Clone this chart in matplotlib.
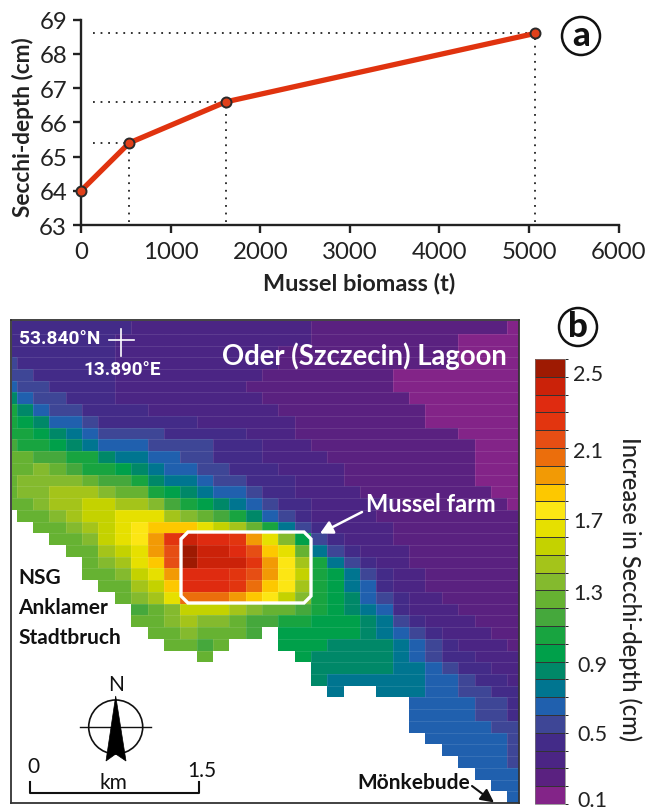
import numpy as np
import matplotlib
matplotlib.use("Agg")
import matplotlib.pyplot as plt
from matplotlib.colors import ListedColormap, BoundaryNorm
from matplotlib.collections import LineCollection
from matplotlib.patches import Circle, Polygon
from matplotlib.transforms import ScaledTranslation

plt.rcParams['font.family'] = ['Lato', 'DejaVu Sans']

# ---- panel a data
biomass = [0, 539, 1618, 5067]
secchi = [64.0, 65.4, 66.6, 68.6]
x_ticks = [0, 1000, 2000, 3000, 4000, 5000, 6000]
y_ticks = [63, 64, 65, 66, 67, 68, 69]

# ---- panel b data: increase in Secchi depth, in tenths of cm (0 = land)
level_colors = ['#832488', '#5A2180', '#4B2584', '#432B88', '#3E4696', '#2060AE', '#007590',
                '#008868', '#00A04A', '#18A440', '#45A83C', '#66B232', '#84BA2E', '#A4C41A',
                '#C4D200', '#E6E000', '#FCE614', '#FDC800', '#F29A05', '#EB6E0C', '#E64E14',
                '#E2350F', '#DF2B10', '#CB2209', '#9E1A02']
cbar_ticks = [0.1, 0.5, 0.9, 1.3, 1.7, 2.1, 2.5]
map_rows = [
    [4,4,4,4,4,4,4,4,3,3,3,3,3,3,3,3,3,3,3,2,2,2,2,2,2,2,2,2,2,2,2,1],
    [4,4,4,4,4,4,4,3,3,3,3,3,3,3,3,3,3,3,3,2,2,2,2,2,2,2,2,2,1,1,1,1],
    [4,4,4,4,4,4,4,3,3,3,3,3,3,3,3,3,3,2,2,2,2,2,2,2,2,2,2,2,1,1,1,1],
    [5,4,4,4,4,4,4,3,3,3,3,3,3,3,3,3,3,2,2,2,2,2,2,2,2,2,2,2,1,1,1,1],
    [5,5,4,4,4,4,4,3,3,3,3,3,3,3,3,3,2,2,2,2,2,2,2,2,1,1,1,1,1,1,1,1],
    [6,5,5,4,4,4,4,3,3,3,3,3,3,3,3,2,2,2,2,2,2,2,2,2,1,1,1,1,1,1,1,1],
    [8,6,5,5,4,4,4,3,3,3,3,3,3,3,3,3,2,2,2,2,2,2,2,2,2,1,1,1,1,1,1,1],
    [10,8,6,5,5,4,4,4,4,3,3,3,3,3,3,3,3,2,2,2,2,2,2,2,2,2,1,1,1,1,1,1],
    [10,9,8,6,6,5,4,4,4,4,4,4,3,3,3,3,3,3,2,2,2,2,2,2,2,2,1,1,1,1,1,1],
    [10,10,9,8,7,6,5,5,5,5,4,4,4,4,4,3,3,3,2,2,2,2,2,2,2,2,2,2,1,1,1,1],
    [11,10,10,9,8,7,6,6,6,5,5,5,5,4,4,4,3,3,3,2,2,2,2,2,2,2,2,2,2,1,1,1],
    [12,12,11,11,10,10,8,7,7,6,6,5,5,4,4,4,3,3,3,3,2,2,2,2,2,2,2,2,2,1,1,1],
    [12,12,13,12,11,10,10,9,8,7,6,6,5,5,4,4,4,3,3,3,3,2,2,2,2,2,2,2,2,1,1,1],
    [12,13,13,13,13,12,11,11,10,8,7,7,6,5,5,4,4,4,3,3,3,2,2,2,2,2,2,2,2,1,1,1],
    [12,13,13,14,14,14,13,12,12,10,9,8,7,6,6,5,4,4,3,3,3,3,2,2,2,2,2,2,2,2,1,1],
    [12,12,13,14,14,15,15,14,14,13,11,10,9,8,7,6,5,4,4,3,3,3,3,3,2,2,2,2,2,2,2,1],
    [0,12,12,13,14,15,15,16,16,16,14,13,12,11,10,8,6,5,4,3,3,3,3,2,2,2,2,2,2,2,2,2],
    [0,0,12,12,13,14,15,16,17,18,18,18,16,15,14,12,10,7,5,4,3,3,3,3,2,2,2,2,2,2,2,2],
    [0,0,0,12,12,13,15,16,17,19,22,24,23,23,22,19,16,13,9,5,4,3,3,3,2,2,2,2,2,2,2,2],
    [0,0,0,0,12,12,14,15,16,19,21,25,24,24,23,21,18,16,12,7,5,4,3,3,3,2,2,2,2,2,2,2],
    [0,0,0,0,0,12,13,14,16,18,21,25,24,24,24,22,19,17,14,10,7,5,4,3,3,2,2,2,2,2,2,2],
    [0,0,0,0,0,12,12,13,15,16,19,23,23,23,22,21,19,17,15,10,9,7,5,4,3,3,2,2,2,2,2,2],
    [0,0,0,0,0,0,12,12,14,15,18,23,23,23,22,20,18,17,14,10,9,7,6,4,3,3,2,2,2,2,2,2],
    [0,0,0,0,0,0,0,12,13,14,16,20,20,20,19,18,17,15,13,10,9,8,6,5,4,3,3,2,2,2,2,2],
    [0,0,0,0,0,0,0,0,11,12,13,15,15,15,14,13,12,12,11,10,9,8,7,6,4,3,3,3,2,2,2,2],
    [0,0,0,0,0,0,0,0,12,12,13,14,13,13,12,11,11,10,10,9,9,9,8,7,5,4,3,3,3,2,2,2],
    [0,0,0,0,0,0,0,0,0,12,12,13,12,12,12,11,0,9,9,9,9,9,8,7,6,5,4,3,3,3,2,2],
    [0,0,0,0,0,0,0,0,0,0,12,12,11,12,0,0,0,9,9,9,8,8,8,8,7,6,5,4,3,3,3,2],
    [0,0,0,0,0,0,0,0,0,0,0,0,12,0,0,0,0,0,9,8,8,8,8,8,7,6,5,4,4,3,3,3],
    [0,0,0,0,0,0,0,0,0,0,0,0,0,0,0,0,0,0,0,8,8,8,8,8,7,7,6,5,4,4,3,3],
    [0,0,0,0,0,0,0,0,0,0,0,0,0,0,0,0,0,0,0,8,7,7,7,7,7,7,6,6,5,4,4,3],
    [0,0,0,0,0,0,0,0,0,0,0,0,0,0,0,0,0,0,0,0,7,0,0,7,7,7,6,6,5,5,4,4],
    [0,0,0,0,0,0,0,0,0,0,0,0,0,0,0,0,0,0,0,0,0,0,0,0,0,6,6,6,6,5,5,4],
    [0,0,0,0,0,0,0,0,0,0,0,0,0,0,0,0,0,0,0,0,0,0,0,0,0,6,6,6,6,5,5,4],
    [0,0,0,0,0,0,0,0,0,0,0,0,0,0,0,0,0,0,0,0,0,0,0,0,0,6,6,6,6,6,5,5],
    [0,0,0,0,0,0,0,0,0,0,0,0,0,0,0,0,0,0,0,0,0,0,0,0,0,0,6,6,6,6,6,5],
    [0,0,0,0,0,0,0,0,0,0,0,0,0,0,0,0,0,0,0,0,0,0,0,0,0,0,0,6,6,6,6,5],
    [0,0,0,0,0,0,0,0,0,0,0,0,0,0,0,0,0,0,0,0,0,0,0,0,0,0,0,0,6,6,6,5],
    [0,0,0,0,0,0,0,0,0,0,0,0,0,0,0,0,0,0,0,0,0,0,0,0,0,0,0,0,0,6,6,6],
    [0,0,0,0,0,0,0,0,0,0,0,0,0,0,0,0,0,0,0,0,0,0,0,0,0,0,0,0,0,0,6,6],
    [0,0,0,0,0,0,0,0,0,0,0,0,0,0,0,0,0,0,0,0,0,0,0,0,0,0,0,0,0,0,0,6],
]
assert all(len(r) == 32 for r in map_rows), [len(r) for r in map_rows]

W, H = 646, 812
fig = plt.figure(figsize=(W / 100, H / 100), dpi=100, facecolor='white')


def px_axes(x0, y0, x1, y1, **kw):
    """axes from pixel box given with top-left origin"""
    return fig.add_axes([x0 / W, 1 - y1 / H, (x1 - x0) / W, (y1 - y0) / H], **kw)


DARK = '#222222'
# ---------------- panel a
ax = px_axes(81, 20.7, 618.7, 226)
ax.set_xlim(0, 6000)
ax.set_ylim(63, 69)
for s in ('top', 'right'):
    ax.spines[s].set_visible(False)
for s in ('left', 'bottom'):
    ax.spines[s].set_linewidth(1.7)
    ax.spines[s].set_color(DARK)
ax.set_xticks(x_ticks)
ax.set_yticks(y_ticks)
ax.tick_params(length=5.5, width=1.7, color=DARK, labelsize=17.3, labelcolor=DARK)
ax.tick_params(axis='x', pad=6)
ax.tick_params(axis='y', pad=4.5)
ax.set_xlabel('Mussel biomass (t)', fontsize=16.9, fontweight='bold', color=DARK, labelpad=7, x=0.517)
ax.set_ylabel('Secchi-depth (cm)', fontsize=16.3, fontweight='bold', color=DARK, labelpad=3.5, y=0.48)
for bx, sy in zip(biomass[1:], secchi[1:]):
    ax.plot([130, bx], [sy, sy], color='#222222', lw=1.3, ls=(0, (1, 3.2)), zorder=1)
    ax.plot([bx, bx], [63.1, sy], color='#222222', lw=1.3, ls=(0, (1, 3.2)), zorder=1)
ax.plot(biomass, secchi, color='#E0330F', lw=3.8, solid_capstyle='round', zorder=3,
        clip_on=False)
ax.plot(biomass, secchi, ls='none', marker='o', ms=7.2, mfc='#E0401A', mec='#2a2a2a', mew=1.4,
        zorder=4, clip_on=False)

# ---------------- panel b map
mx0, my0, mx1, my1 = 11, 321, 519, 804
mp = px_axes(mx0, my0, mx1, my1)
mp.set_xlim(mx0, mx1)
mp.set_ylim(my1, my0)
for s in mp.spines.values():
    s.set_linewidth(1.3)
    s.set_color('#333333')
mp.set_xticks([])
mp.set_yticks([])

grid = np.array(map_rows, dtype=float)
nrow, ncol = grid.shape
col_w, row_h = 16.35, 11.73
xedges = np.concatenate(([12], 16.7 + col_w * np.arange(ncol - 1), [518.5]))
yedges = np.concatenate(([321.5], 323.1 + row_h * np.arange(1, nrow), [803.5]))
cmap = ListedColormap(level_colors)
cmap.set_bad('white')
bounds = np.arange(0.05, 2.56, 0.1)
norm = BoundaryNorm(bounds, cmap.N)
mesh = mp.pcolormesh(xedges, yedges, np.ma.masked_equal(grid, 0) / 10, cmap=cmap, norm=norm,
                     linewidth=0, antialiased=False, zorder=1)
segs = []
for r in range(nrow):
    for c in range(ncol):
        if grid[r, c] == 0:
            continue
        if r + 1 < nrow and grid[r + 1, c] != 0:
            segs.append([(xedges[c], yedges[r + 1]), (xedges[c + 1], yedges[r + 1])])
        if c + 1 < ncol and grid[r, c + 1] != 0 and grid[r, c + 1] != grid[r, c]:
            segs.append([(xedges[c + 1], yedges[r]), (xedges[c + 1], yedges[r + 1])])
mp.add_collection(LineCollection(segs, colors='white', alpha=0.12, linewidths=0.6, zorder=2))

# mussel farm outline
fx0, fx1, fy0, fy1, ch = 181, 311, 533, 604, 7
mp.add_patch(Polygon([(fx0 + ch, fy0), (fx1 - ch, fy0), (fx1, fy0 + ch), (fx1, fy1 - ch),
                      (fx1 - ch, fy1), (fx0 + ch, fy1), (fx0, fy1 - ch), (fx0, fy0 + ch)],
                     closed=True, fill=False, ec='white', lw=2.4, zorder=5))

# map annotations, in the map's own pixel coordinates
mp.text(19, 339, '53.840°N', color='white', fontsize=13.8, fontweight='bold', family='Roboto',
        va='center', ha='left', zorder=6)
mp.text(83, 370, '13.890°E', color='white', fontsize=13.6, fontweight='bold', family='Roboto',
        va='center', ha='left', zorder=6)
mp.plot([109, 134], [341, 341], color='white', lw=1.2, zorder=6)
mp.plot([120.7, 120.7], [330, 357], color='white', lw=1.2, zorder=6)
mp.text(222, 356, 'Oder (Szczecin) Lagoon', color='white', fontsize=19.8, fontweight='bold',
        va='center', ha='left', zorder=6)
mp.text(366, 504, 'Mussel farm', color='white', fontsize=17, fontweight='bold',
        va='center', ha='left', zorder=6)
mp.annotate('', xy=(320, 534.5), xytext=(362, 513), zorder=6,
            arrowprops=dict(arrowstyle='-|>,head_length=0.75,head_width=0.4', color='white', lw=1.8,
                            shrinkA=0, shrinkB=0))
for yy, txt in zip((578, 608, 638), ('NSG', 'Anklamer', 'Stadtbruch')):
    mp.text(18, yy, txt, color='#111111', fontsize=15, fontweight='bold', va='center', ha='left',
            zorder=6)
# compass
mp.text(116, 685, 'N', color='#111111', fontsize=15, va='center', ha='center', zorder=6)
mp.add_patch(Circle((115.7, 728), 27, fill=False, ec='#111111', lw=1.2, zorder=6))
mp.plot([80, 151], [728, 728], color='#111111', lw=1.0, zorder=6)
mp.add_patch(Polygon([(115.7, 697), (126, 762), (115.7, 755), (106, 762)], closed=True,
                     fc='black', ec='black', lw=0.5, zorder=7))
# scale bar
mp.plot([29.5, 29.5, 199, 199], [783, 794, 794, 783], color='#111111', lw=1.5, zorder=6)
mp.text(33, 767, '0', color='#111111', fontsize=15, va='center', ha='center', zorder=6)
mp.text(202, 771, '1.5', color='#111111', fontsize=15, va='center', ha='center', zorder=6)
mp.text(113, 783, 'km', color='#111111', fontsize=15, va='center', ha='center', zorder=6)
mp.text(357, 783, 'Mönkebude', color='#111111', fontsize=15, fontweight='bold', va='center',
        ha='left', zorder=6)
mp.annotate('', xy=(494, 803.5), xytext=(472, 787), zorder=6,
            arrowprops=dict(arrowstyle='-|>,head_length=0.8,head_width=0.4', color='#111111', lw=1.5,
                            shrinkA=0, shrinkB=0))

# ---------------- colorbar
cax = px_axes(534.7, 360, 565, 805)
cb = fig.colorbar(mesh, cax=cax, ticks=cbar_ticks, spacing='proportional', drawedges=True)
cb.outline.set_linewidth(0.5)
cb.outline.set_edgecolor('#777777')
cb.dividers.set_linewidth(0.7)
cb.dividers.set_color('#333333')
cb.ax.tick_params(length=0, labelsize=15.5, labelcolor=DARK, pad=6)
cb.ax.set_yticklabels(['0.1', '0.5', '0.9', '1.3', '1.7', '2.1', '2.5'])
# offsets of the printed labels from their colour cells, in pixels
label_dx = [4, 4, 4, 0, 0, 0, 0]
label_dy = [-3, -8, -10, -10, -9, -10, -4]
for lab, dx, dy in zip(cb.ax.get_yticklabels(), label_dx, label_dy):
    lab.set_transform(lab.get_transform() + ScaledTranslation(dx / 100, dy / 100, fig.dpi_scale_trans))

# ---------------- overlay in figure pixels: panel letters and colourbar title
fig.text(630 / W, 1 - 589 / H, 'Increase in Secchi-depth (cm)', rotation=270, fontsize=17,
         color=DARK, va='center', ha='center', fontweight='medium')
for (cx, cy, letter) in ((581, 37, 'a'), (578, 328, 'b')):
    ring = Circle((cx, H - cy), 19, transform=None, fill=False, ec='#111111', lw=1.8)
    ring.set_transform(matplotlib.transforms.Affine2D())
    fig.add_artist(ring)
    fig.text(cx / W, 1 - (cy - 1) / H, letter, fontsize=25, fontweight='black', color='#111111',
             va='center', ha='center')

fig.savefig('out.png', dpi=100, facecolor='white')
